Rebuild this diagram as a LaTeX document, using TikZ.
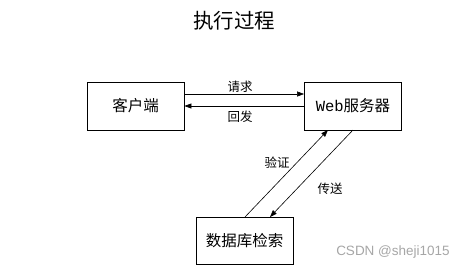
\documentclass[tikz,border=0pt]{standalone}
\usepackage{fontspec}
\setmainfont{Liberation Serif}
\newfontfamily\cjk{Noto Sans CJK SC}[Scale=1]
\newfontfamily\wm{Liberation Sans}
\newfontfamily\mono{Liberation Mono}
\usetikzlibrary{arrows.meta}
\begin{document}
\begin{tikzpicture}[x=1pt,y=-1pt,
  box/.style={draw,line width=0.8pt,minimum width=97pt,minimum height=48pt,inner sep=0pt,font=\cjk\fontsize{15.5}{18}\selectfont},
  lbl/.style={font=\cjk\fontsize{12.5}{15}\selectfont,inner sep=1pt},
  conn/.style={line width=0.6pt,-{Triangle[length=7pt,width=5pt]}}]
\useasboundingbox (0,0) rectangle (469,269);
\node[font=\cjk\fontsize{20.5}{24}\selectfont] (title) at (234,21) {执行过程};
\node[box] (client) at (135.5,106) {客户端};
\node[box] (web) at (353,106) {{\mono Web}服务器};
\node[box,minimum height=47pt] (db) at (244.5,240.5) {数据库检索};
\coordinate (c1) at (client.east |- 0,94);
\coordinate (w1) at (web.west |- 0,94);
\coordinate (c2) at (client.east |- 0,106);
\coordinate (w2) at (web.west |- 0,106);
\draw[conn] (c1) -- (w1);
\draw[conn] (w2) -- (c2);
\node[lbl] (req) at (240,87) {请求};
\node[lbl] (resp) at (240,117) {回发};
\coordinate (d1) at (245,217);
\coordinate (wb1) at (328,130);
\coordinate (wb2) at (353,130);
\coordinate (d2) at (270,217);
\draw[conn] (d1) -- (wb1);
\draw[conn] (wb2) -- (d2);
\node[lbl] (ver) at (277,163) {验证};
\node[lbl] (send) at (330,189) {传送};
\node[font=\wm\fontsize{13.5}{16}\selectfont,text=black!35,inner sep=0pt] (mark) at (393,252) {CSDN @sheji1015};
\end{tikzpicture}
\end{document}
